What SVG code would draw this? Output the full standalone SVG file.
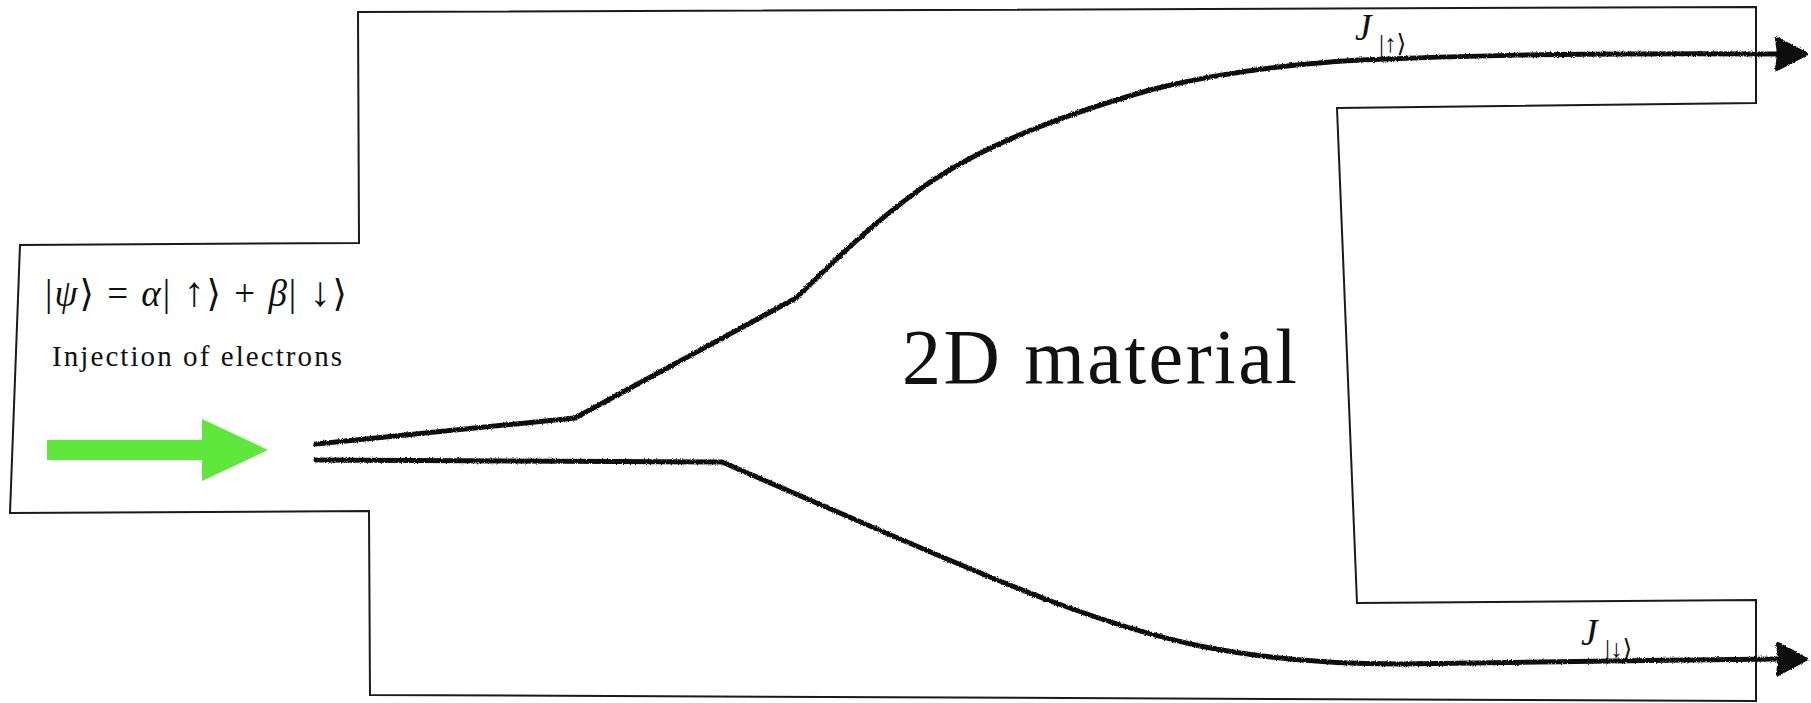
<svg xmlns="http://www.w3.org/2000/svg" width="1811" height="703" viewBox="0 0 1811 703">
  <style>
    .outline { fill: none; stroke: #1a1a1a; stroke-width: 2; stroke-linejoin: miter; }
    .pencil { fill: none; stroke: #111; stroke-width: 5; stroke-linecap: round; stroke-linejoin: round; }
    .pencil-head { fill: #111; stroke: #111; stroke-width: 4; stroke-linejoin: round; }
    text { fill: #111; }
  </style>
  <defs>
    <filter id="rough" x="-5%" y="-5%" width="110%" height="110%">
      <feTurbulence type="fractalNoise" baseFrequency="1.2" numOctaves="2" seed="4" result="noise"/>
      <feDisplacementMap in="SourceGraphic" in2="noise" scale="3" xChannelSelector="R" yChannelSelector="G"/>
    </filter>
  </defs>

  <rect width="1811" height="703" fill="#ffffff"/>

  <g id="material-outline">
    <polygon class="outline" points="358,12 1756,7 1756,103 1337,108 1357,603 1756,600 1756,701 370,695 369,511 10,513 20,245 359,243"/>
  </g>

  <g id="injection-arrow">
    <polygon points="47,440 202,440 202,419 268,450 202,481 202,460 47,460" fill="#5ee83b"/>
  </g>

  <g id="state-formula">
    <text x="45" y="306" font-family="Liberation Serif, DejaVu Serif, serif" font-size="37" textLength="302" lengthAdjust="spacing">|<tspan font-style="italic">ψ</tspan>⟩ = <tspan font-style="italic">α</tspan>| <tspan font-size="42">↑</tspan>⟩ + <tspan font-style="italic">β</tspan>| <tspan font-size="42">↓</tspan>⟩</text>
  </g>

  <g id="injection-label">
    <text x="52" y="366" font-family="Liberation Serif, DejaVu Serif, serif" font-size="29" textLength="290" lengthAdjust="spacing">Injection of electrons</text>
  </g>

  <g id="material-label">
    <text x="902" y="383" font-family="Liberation Serif, DejaVu Serif, serif" font-size="78" textLength="395" lengthAdjust="spacing">2D material</text>
  </g>

  <g id="j-up-label">
    <text x="1355" y="40" font-family="Liberation Serif, DejaVu Serif, serif" font-size="37"><tspan font-style="italic">J</tspan><tspan x="1379" y="52" font-size="25">|↑⟩</tspan></text>
  </g>

  <g id="j-down-label">
    <text x="1581" y="645" font-family="Liberation Serif, DejaVu Serif, serif" font-size="37"><tspan font-style="italic">J</tspan><tspan x="1605" y="657" font-size="25">|↓⟩</tspan></text>
  </g>

  <g id="connectors" filter="url(#rough)">
    <path class="pencil" d="M316,444 L575,418 L796,298 C830,265 870,225 923,187 C990,140 1080,110 1150,90 C1220,72 1290,64 1360,60 C1450,56 1550,53 1780,54"/>
    <polygon class="pencil-head" points="1806,54 1777,39 1779,54 1777,69"/>
    <path class="pencil" d="M316,460 L722,462 L900,539 C1000,582 1100,625 1200,646 C1260,658 1320,664 1400,664 C1500,663 1650,660 1780,659"/>
    <polygon class="pencil-head" points="1806,659 1778,644 1780,659 1778,674"/>
  </g>
</svg>
